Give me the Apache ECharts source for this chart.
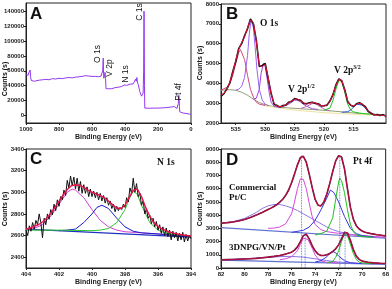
<!DOCTYPE html>
<html><head><meta charset="utf-8">
<script src="https://cdn.jsdelivr.net/npm/echarts@6/dist/echarts.min.js"></script>
<style>html,body{margin:0;padding:0;background:#fff}#c{width:392px;height:289px}</style>
</head><body><div id="c"></div>
<script>
// ---------- Panel A: survey spectrum ----------
const aBE = [1000,995,990,987,984,981,978,975,972,968,960,950,940,920,900,880,860,840,820,800,780,760,740,720,700,680,660,640,630,620,600,580,560,545,540,535,532,530,528,525,521,518,515,510,500,490,480,470,460,450,440,430,420,410,405,400,397,390,380,370,360,350,340,335,332,328,325,320,315,310,300,295,290,287,285,284,282,280,270,250,220,200,180,160,140,120,110,100,95,90,85,80,77,74,72,70,68,65,60,50,40,30,20,10,0];
const aCounts = [55000,53000,56000,54000,57000,55000,58000,61000,52000,47000,46500,46000,47000,47500,48000,48500,48000,49500,49000,50000,49500,50500,51000,50500,51500,52000,52500,53500,55000,53000,52500,52500,52000,53000,54000,60000,77000,56000,50000,51000,58000,50000,36000,35500,36000,36500,36000,37000,37500,37000,38000,38500,39000,40000,41000,43000,41000,40500,41000,42000,41500,42500,44000,49000,46000,51000,45000,42000,37000,32000,26000,25000,30000,60000,140000,136000,40000,10000,9800,9800,10000,10000,10200,10500,10800,11500,12000,12000,11000,10000,9500,10000,16000,27000,24000,12000,5000,4500,4000,3500,3200,2800,2500,2000,1500];
const aYTicks = [0,20000,40000,60000,80000,100000,120000,140000];
const aLabels = ['O 1s','V 2p','N 1s','C 1s','Pt 4f'];

// ---------- Panel B: O 1s / V 2p ----------
const bBE = [537.5,537,536.5,536,535.5,535,534.5,534,533.5,533,532.5,532,531.5,531,530.5,530,529.5,529,528.5,528,527.5,527,526.5,526,525.5,525,524.5,524,523.5,523,522.5,522,521.5,521,520.5,520,519.5,519,518.5,518,517.5,517,516.5,516,515.5,515,514.5,514,513.5,513,512.5,512,511.5,511,510.5,510,509.5];
const bData = [3350,3480,3720,4020,4600,5100,5750,6000,6400,6750,7250,7000,6150,4850,4900,5000,4250,3500,2950,2880,2800,2880,2900,3050,3100,3230,3180,3150,2990,2970,3020,3050,2990,2970,2860,2870,2900,3120,3430,3920,4230,4120,3680,3080,2900,2830,2970,3020,2930,2820,2580,2490,2400,2430,2380,2420,2340];
const bFit = [3400,3500,3700,4050,4550,5150,5700,6050,6350,6800,7200,7050,6100,4900,4850,4950,4300,3450,3000,2850,2830,2850,2920,3020,3120,3200,3200,3120,3020,2950,3000,3030,3020,2950,2880,2850,2920,3100,3450,3900,4200,4150,3650,3100,2880,2850,2950,3000,2950,2800,2600,2470,2420,2400,2400,2380,2370];
const bBgBE = [537.5,536,535,534,533,532,531,530,529,528,526,524,522,520,518,516,514,512,510,509.5];
const bBg = [3650,3680,3650,3550,3400,3200,3030,2920,2850,2800,2760,2720,2680,2640,2590,2530,2480,2440,2400,2390];
const bP1BE = [537.5,536.5,536,535.5,535,534.5,534.2,534,533.5,533,532.5,532,531.5,531,530];
const bP1 = [3650,3800,4000,4400,5000,5550,5700,5650,5200,4400,3700,3300,3050,2950,2880];
const bP2BE = [535,534.5,534,533.5,533,532.7,532.4,532,531.7,531.4,531,530.5,530,529.5];
const bP2 = [3660,3700,3850,4300,5400,6500,7200,6800,5800,4700,3700,3150,2950,2870];
const bP3BE = [532,531.5,531,530.7,530.3,530,529.7,529.3,529,528.5,528];
const bP3 = [3200,3250,3700,4500,5000,4850,4300,3500,3050,2850,2800];
const bV1BE = [528,527,526,525,524.5,524,523,522,521];
const bV1 = [2800,2820,2950,3150,3150,3050,2850,2720,2680];
const bV2BE = [524,523,522,521.5,521,520,519];
const bV2 = [2730,2830,2980,2980,2880,2700,2620];
const bGBE = [520,519,518.5,518,517.5,517.2,517,516.5,516,515.5,515,514,513,512,510];
const bG = [2650,2750,3150,3700,4150,4200,4100,3550,2950,2650,2560,2500,2460,2450,2400];
const bBlBE = [517,516,515.5,515,514.5,514.2,513.5,513,512.5,512,511];
const bBl = [2540,2570,2650,2800,2950,2980,2900,2750,2570,2460,2420];
const bYlBE = [530,525,520,515,512];
const bYl = [2860,2650,2520,2440,2400];
const bXTicks = [515,520,525,530,535];

// ---------- Panel C: N 1s ----------
const cBE = [404,403.9,403.8,403.7,403.6,403.5,403.4,403.3,403.2,403.1,403,402.9,402.8,402.7,402.6,402.5,402.4,402.3,402.2,402.1,402,401.9,401.8,401.7,401.6,401.5,401.4,401.3,401.2,401.1,401,400.9,400.8,400.7,400.6,400.5,400.4,400.3,400.2,400.1,400,399.9,399.8,399.7,399.6,399.5,399.4,399.3,399.2,399.1,399,398.9,398.8,398.7,398.6,398.5,398.4,398.3,398.2,398.1,398,397.9,397.8,397.7,397.6,397.5,397.4,397.3,397.2,397.1,397,396.9,396.8,396.7,396.6,396.5,396.4,396.3,396.2,396.1,396,395.9,395.8,395.7,395.6,395.5,395.4,395.3,395.2,395.1,395,394.9,394.8,394.7,394.6,394.5,394.4,394.3,394.2,394.1,394];
const cData = [2650,2600,2690,2640,2720,2660,2740,2700,2800,2720,2580,2760,2700,2800,2750,2840,2790,2890,2830,2930,2870,2960,2930,3020,2970,3110,3040,3150,3060,3140,3030,3130,3010,3100,2990,3070,2990,3050,2960,3030,2960,3010,2950,3000,2930,2990,2920,2970,2900,2950,2880,2920,2850,2890,2820,2870,2830,2860,2840,2890,2860,2950,2910,3040,2990,3130,3000,3080,2960,2990,2880,2920,2800,2850,2760,2790,2710,2760,2680,2730,2650,2700,2620,2680,2600,2670,2590,2650,2560,2640,2580,2630,2550,2620,2560,2630,2540,2610,2550,2600,2570];
const cFitBE = [404,403.75,403.5,403.25,403,402.75,402.5,402.25,402,401.75,401.5,401.25,401,400.75,400.5,400.25,400,399.75,399.5,399.25,399,398.75,398.5,398.25,398,397.75,397.5,397.25,397,396.75,396.5,396.25,396,395.75,395.5,395.25,395,394.75,394.5,394.25,394];
const cFit = [2660,2670,2685,2700,2725,2760,2805,2860,2915,2975,3025,3060,3070,3065,3045,3020,3000,2985,2970,2950,2920,2885,2855,2850,2880,2950,3020,3030,2960,2860,2780,2720,2685,2660,2645,2630,2620,2612,2605,2600,2595];
const cMBE = [404,403.5,403,402.5,402,401.5,401.2,401,400.5,400,399.5,399,398.5,398,397,396,395,394];
const cM = [2655,2665,2700,2780,2890,3000,3030,3020,2950,2840,2740,2680,2650,2635,2625,2615,2605,2595];
const cBlBE = [402,401.5,401,400.5,400,399.7,399.4,399,398.5,398,397.5,397,396,395,394];
const cBl = [2645,2650,2660,2720,2800,2860,2880,2850,2760,2680,2640,2625,2615,2600,2590];
const cGBE = [404,402,400,399.5,399,398.5,398,397.75,397.5,397.25,397,396.5,396,395.5,395,394];
const cG = [2650,2650,2645,2650,2665,2720,2840,2940,3010,2980,2880,2720,2650,2620,2610,2595];
const cBaseBE = [404,394];
const cBase = [2660,2585];
const cYTicks = [2400,2600,2800,3000,3200,3400];

// ---------- Panel D: Pt 4f ----------
const dBE = [82,81.75,81.5,81.25,81,80.75,80.5,80.25,80,79.75,79.5,79.25,79,78.75,78.5,78.25,78,77.75,77.5,77.25,77,76.75,76.5,76.25,76,75.75,75.5,75.25,75,74.75,74.5,74.25,74,73.75,73.5,73.25,73,72.75,72.5,72.25,72,71.75,71.5,71.25,71,70.75,70.5,70.25,70,69.75,69.5,69.25,69,68.75,68.5,68.25,68];
const dCom = [3380,3400,3420,3450,3480,3520,3560,3610,3670,3740,3820,3910,4000,4100,4200,4310,4420,4530,4650,4800,4980,5200,5500,5900,6450,7100,7800,8350,8450,8000,7100,6100,5200,4750,4700,5000,5600,6400,7300,8100,8500,8400,7500,6000,4600,3700,3200,2950,2800,2700,2650,2600,2560,2520,2490,2460,2430];
const dComBaseBE = [82,68];
const dComBase = [3050,2250];
const dComBroadBE = [82,81,80,79,78.5,78,77.5,77,76.5,76,75.5,75,74.5,74,73.5,73,72.5,72,71,70,69,68];
const dComBroad = [3400,3500,3750,4200,4500,4700,4800,4800,4700,4550,4350,4100,3850,3600,3350,3100,2900,2750,2550,2420,2350,2300];
const dComMBE = [78,77.5,77,76.5,76,75.75,75.5,75.25,75.1,75,74.75,74.5,74.25,74,73.5,73,72,71,70,69,68];
const dComM = [3000,3020,3100,3350,4100,5000,6000,6750,6800,6700,6000,4900,3900,3300,2900,2750,2620,2520,2450,2380,2330];
const dComBlBE = [76,75,74.5,74,73.5,73,72.7,72.4,72,71.5,71,70.5,70,69];
const dComBl = [2700,2850,3100,3600,4400,5300,5900,5700,5000,3900,3000,2600,2450,2350];
const dComGBE = [74,73.5,73,72.5,72.25,72,71.9,71.75,71.5,71.25,71,70.75,70.5,70,69];
const dComG = [2500,2600,2800,3800,5200,6500,6800,6600,5700,4400,3300,2750,2500,2380,2320];
const dLowBE = [82,81.5,81,80.5,80,79.5,79,78.5,78,77.5,77,76.5,76,75.75,75.5,75.25,75,74.85,74.75,74.5,74.25,74,73.75,73.5,73.25,73,72.75,72.5,72.25,72,71.75,71.5,71.4,71.25,71,70.75,70.5,70.25,70,69.5,69,68.5,68];
const dLow = [620,630,640,660,680,700,730,770,820,880,950,1050,1200,1350,1600,2000,2450,2600,2550,2200,1700,1300,1050,950,950,1000,1100,1250,1450,1750,2200,2700,2780,2650,2100,1400,900,650,520,430,390,360,340];
const dLowBaseBE = [82,68];
const dLowBase = [600,280];
const dLowBroadBE = [82,80,78,77,76,75,74,73,72,71,70,68];
const dLowBroad = [620,700,800,860,880,820,700,560,450,380,340,300];
const dLowMBE = [77,76.5,76,75.5,75.25,75,74.85,74.6,74.25,74,73.75,73.5,73,72];
const dLowM = [620,700,850,1300,1800,2250,2350,2150,1500,1000,700,530,430,380];
const dLowBlBE = [74,73.5,73,72.75,72.5,72.25,72,71.5,71,70];
const dLowBl = [450,550,850,1100,1250,1150,900,550,400,330];
const dLowGBE = [73,72.5,72.25,72,71.75,71.5,71.4,71.25,71,70.75,70.5,70.25,70,69];
const dLowG = [400,500,800,1300,2000,2600,2650,2450,1800,1100,650,450,380,320];
const dDotBE = [75.15,74.85,71.9,71.45];
const dDotTop = [8500,2650,8550,2800];

// ---------- build ----------
function pts(xs, ys){ return xs.map((x,i)=>[x, ys[i]]); }
function ln(g, xs, ys, color, w, z, type){
  return {type:'line', xAxisIndex:g, yAxisIndex:g, data:pts(xs,ys), symbol:'none', showSymbol:false,
    lineStyle:{color:color, width:w||1, type:type||'solid'}, z:z||2, animation:false, silent:true, clip:true};
}
const F = 'Liberation Sans, Arial, sans-serif';
const SERIF = 'Liberation Serif, DejaVu Serif, serif';
const plain = v => String(v);
function xAx(g, min, max, extra){
  return Object.assign({type:'value', gridIndex:g, min:min, max:max, inverse:true,
    name:'Binding Energy (eV)', nameLocation:'middle', nameGap:11,
    nameTextStyle:{fontSize:7, fontWeight:'bold', color:'#222', fontFamily:F},
    axisLine:{show:true, onZero:false, lineStyle:{color:'#222', width:1}},
    axisTick:{show:true, inside:false, length:2, lineStyle:{color:'#222'}},
    axisLabel:{fontSize:6, fontWeight:'bold', color:'#222', fontFamily:F, margin:3, formatter:plain},
    splitLine:{show:false}}, extra||{});
}
function yAx(g, min, max, extra){
  return Object.assign({type:'value', gridIndex:g, min:min, max:max,
    axisLine:{show:true, onZero:false, lineStyle:{color:'#222', width:1}},
    axisTick:{show:true, inside:false, length:2, lineStyle:{color:'#222'}},
    axisLabel:{fontSize:6, fontWeight:'bold', color:'#222', fontFamily:F, margin:2, formatter:plain},
    splitLine:{show:false}}, extra||{});
}
const xA = xAx(0, 0, 1000, {interval:200});
const xB = xAx(1, 509.5, 537.5);
xB.axisLabel.customValues = bXTicks; xB.axisTick.customValues = bXTicks;
const xC = xAx(2, 394, 404, {interval:2});
const xD = xAx(3, 68, 82, {interval:2});
const yA = yAx(0, -10000, 151000);
yA.axisLabel.customValues = aYTicks; yA.axisTick.customValues = aYTicks;
const yB = yAx(1, 2000, 8000, {interval:1000});
const yC = yAx(2, 2300, 3400);
yC.axisLabel.customValues = cYTicks; yC.axisTick.customValues = cYTicks;
const yD = yAx(3, 0, 9000, {interval:1000});

const series = [
  ln(0, aBE, aCounts, '#9438f0', 1, 3),
  ln(1, bBgBE, bBg, '#8f9c74', 1, 2),
  ln(1, bYlBE, bYl, '#efe3a0', 1, 2),
  ln(1, bP1BE, bP1, '#d24a78', 1, 2),
  ln(1, bP2BE, bP2, '#9a62f4', 1, 2),
  ln(1, bP3BE, bP3, '#a044e0', 1, 2),
  ln(1, bV1BE, bV1, '#a050d8', 1, 2),
  ln(1, bV2BE, bV2, '#d05cc0', 1, 2),
  ln(1, bGBE, bG, '#22c622', 1, 2),
  ln(1, bBlBE, bBl, '#3050e0', 1, 2),
  ln(1, bBE, bData, '#111111', 1.6, 3),
  ln(1, bBE, bFit, '#e8103c', 1, 4),
  ln(2, cBaseBE, cBase, '#2030c0', 1.2, 2),
  ln(2, cMBE, cM, '#d040d8', 1, 2),
  ln(2, cBlBE, cBl, '#1a1ac8', 1, 2),
  ln(2, cGBE, cG, '#2ec82e', 1, 2),
  ln(2, cBE, cData, '#111111', 1, 3),
  ln(2, cFitBE, cFit, '#e8104a', 1.4, 4),
  ln(3, dComBaseBE, dComBase, '#6070d0', 1.2, 2),
  ln(3, dComBroadBE, dComBroad, '#8a7ae6', 1, 2),
  ln(3, dComMBE, dComM, '#d848d8', 1, 2),
  ln(3, dComBlBE, dComBl, '#3838e0', 1, 2),
  ln(3, dComGBE, dComG, '#20c020', 1, 2),
  ln(3, dBE, dCom, '#6a0a30', 1.6, 3),
  ln(3, dBE, dCom, '#d01048', 0.8, 4),
  ln(3, dLowBaseBE, dLowBase, '#6070d0', 1.2, 2),
  ln(3, dLowBroadBE, dLowBroad, '#8a7ae6', 1, 2),
  ln(3, dLowMBE, dLowM, '#d848d8', 1, 2),
  ln(3, dLowBlBE, dLowBl, '#3838e0', 1, 2),
  ln(3, dLowGBE, dLowG, '#20c020', 1, 2),
  ln(3, dLowBE, dLow, '#6a0a30', 1.6, 3),
  ln(3, dLowBE, dLow, '#d01048', 0.8, 4)
];
dDotBE.forEach((x,i)=>{ series.push(ln(3, [x,x], [0,dDotTop[i]], '#3a5ab8', 0.8, 5, 'dotted')); });

function txt(x, y, text, font, opts){
  return Object.assign({type:'text', x:x, y:y, z:100, silent:true,
    style:{text:text, font:font, fill:'#111', textAlign:'left', textVerticalAlign:'middle'}}, opts||{});
}
function vtxt(x, y, text, font){
  return {type:'text', x:x, y:y, rotation:Math.PI/2, z:100, silent:true,
    style:{text:text, font:font, fill:'#111', textAlign:'center', textVerticalAlign:'middle'}};
}
const graphics = [
  txt(30, 14, 'A', 'bold 17px ' + F),
  txt(226, 14, 'B', 'bold 17px ' + F),
  txt(30, 159, 'C', 'bold 17px ' + F),
  txt(226, 160, 'D', 'bold 17px ' + F),
  vtxt(98, 54, aLabels[0], '8.5px ' + F),
  vtxt(110, 68, aLabels[1], '8.5px ' + F),
  vtxt(126, 74, aLabels[2], '8.5px ' + F),
  vtxt(140, 12, aLabels[3], '8.5px ' + F),
  vtxt(179, 92, aLabels[4], '8.5px ' + F),
  vtxt(5, 79, 'Counts (s)', 'bold 7px ' + F),
  vtxt(200, 63, 'Counts (s)', 'bold 7px ' + F),
  vtxt(5, 209, 'Counts (s)', 'bold 7px ' + F),
  vtxt(200, 209, 'Counts (s)', 'bold 7px ' + F),
  txt(260, 24, 'O 1s', 'bold 9.5px ' + SERIF),
  txt(288, 90, 'V 2p', 'bold 9.5px ' + SERIF),
  txt(307, 86, '1/2', 'bold 6px ' + SERIF),
  txt(334, 71, 'V 2p', 'bold 9.5px ' + SERIF),
  txt(353, 67, '3/2', 'bold 6px ' + SERIF),
  txt(157, 163, 'N 1s', 'bold 9.5px ' + SERIF),
  txt(353, 162, 'Pt 4f', 'bold 9.5px ' + SERIF),
  txt(229, 188, 'Commercial', 'bold 9px ' + SERIF),
  txt(229, 198, 'Pt/C', 'bold 9px ' + SERIF),
  txt(229, 248, '3DNPG/VN/Pt', 'bold 9px ' + SERIF)
];

const chart = echarts.init(document.getElementById('c'), null, {renderer:'canvas'});
chart.setOption({
  animation:false,
  backgroundColor:'#ffffff',
  grid:[
    {left:26, top:3, width:165, height:120, show:true, borderColor:'#222', borderWidth:1, backgroundColor:'transparent'},
    {left:221, top:4, width:165, height:119, show:true, borderColor:'#222', borderWidth:1, backgroundColor:'transparent'},
    {left:26, top:149, width:165, height:119, show:true, borderColor:'#222', borderWidth:1, backgroundColor:'transparent'},
    {left:221, top:149, width:165, height:119, show:true, borderColor:'#222', borderWidth:1, backgroundColor:'transparent'}
  ],
  xAxis:[xA, xB, xC, xD],
  yAxis:[yA, yB, yC, yD],
  series:series,
  graphic:graphics
});
</script>
</body></html>
